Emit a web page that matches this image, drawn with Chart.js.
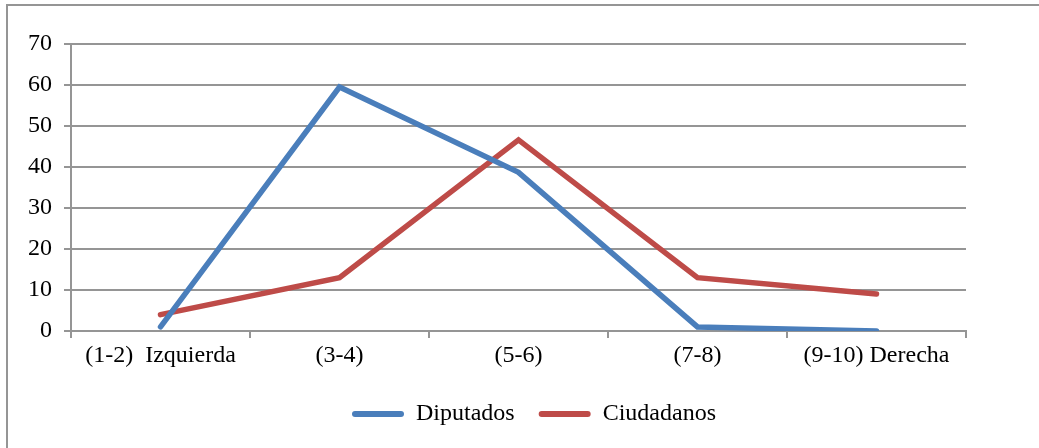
<!DOCTYPE html>
<html>
<head>
<meta charset="utf-8">
<script src="https://cdn.jsdelivr.net/npm/chart.js@4/dist/chart.umd.min.js"></script>
<style>
  html, body { margin: 0; padding: 0; background: #fff; }
  #wrap { position: relative; width: 1039px; height: 448px; overflow: hidden; }
  #frame {
    position: absolute; left: 6px; top: 4px; width: 1100px; height: 500px;
    border-top: 2px solid #959595; border-left: 2px solid #959595;
  }
  canvas { position: absolute; left: 0; top: 0; }
</style>
</head>
<body>
<div id="wrap">
  <div id="frame"></div>
  <canvas id="c" width="1039" height="448"></canvas>
</div>
<script>
// Ideological self-placement scale (1 = left, 10 = right)
const categories = ['(1-2)  Izquierda', '(3-4)', '(5-6)', '(7-8)', '(9-10) Derecha'];
const diputados  = [1, 59.5, 38.7, 1, 0];
const ciudadanos = [4, 13, 46.6, 13, 9];
const yTicks = [0, 10, 20, 30, 40, 50, 60, 70];

const GRID = '#959595';
const FONT = { family: '"Liberation Serif", "Times New Roman", serif', size: 24 };

// Fixed legend height and horizontal placement
const legendLayout = {
  id: 'legendLayout',
  beforeUpdate(chart) {
    const lg = chart.legend;
    if (lg && !lg._fixedFit) {
      const fit = lg.fit;
      lg.fit = function () { fit.call(this); this.height = 70; };
      lg._fixedFit = true;
    }
  },
  afterLayout(chart) {
    const lg = chart.legend;
    const dx = 328;
    lg.left += dx; lg.right += dx;
  }
};

new Chart(document.getElementById('c'), {
  type: 'line',
  data: {
    labels: categories,
    datasets: [
      { label: 'Diputados', data: diputados, borderColor: '#4A7EBB', backgroundColor: '#4A7EBB' },
      { label: 'Ciudadanos', data: ciudadanos, borderColor: '#BE4B48', backgroundColor: '#BE4B48' }
    ]
  },
  options: {
    responsive: false,
    animation: false,
    devicePixelRatio: 1,
    layout: { padding: { left: 0, right: 73, top: 44, bottom: 0 } },
    elements: {
      line: { borderWidth: 5.5, tension: 0, borderCapStyle: 'round', fill: false },
      point: { radius: 0, hoverRadius: 0 }
    },
    scales: {
      x: {
        offset: true,
        afterFit(s) { s.height = 47; },
        grid: { offset: true, drawOnChartArea: false, drawTicks: true, tickLength: 7, color: GRID, lineWidth: 2 },
        border: { display: true, color: GRID, width: 2 },
        ticks: { font: FONT, color: '#000', padding: 3, maxRotation: 0, autoSkip: false }
      },
      y: {
        min: 0, max: 70,
        afterFit(s) { s.width = 71; },
        afterBuildTicks(s) { s.ticks = yTicks.map(v => ({ value: v })); },
        grid: { color: GRID, lineWidth: 2, drawTicks: true, tickLength: 7 },
        border: { display: true, color: GRID, width: 2 },
        ticks: { font: FONT, color: '#000', padding: 12 }
      }
    },
    plugins: {
      tooltip: { enabled: false },
      legend: {
        position: 'bottom',
        align: 'start',
        labels: {
          font: FONT,
          color: '#000',
          padding: 24,
          boxWidth: 52,
          boxHeight: 6,
          useBorderRadius: true,
          borderRadius: 3,
          generateLabels(chart) {
            return chart.data.datasets.map((ds, i) => ({
              text: ds.label,
              fillStyle: ds.borderColor,
              strokeStyle: ds.borderColor,
              lineWidth: 0,
              hidden: false,
              datasetIndex: i,
              fontColor: '#000',
              borderRadius: 3
            }));
          }
        }
      }
    }
  },
  plugins: [legendLayout]
});
</script>
</body>
</html>
